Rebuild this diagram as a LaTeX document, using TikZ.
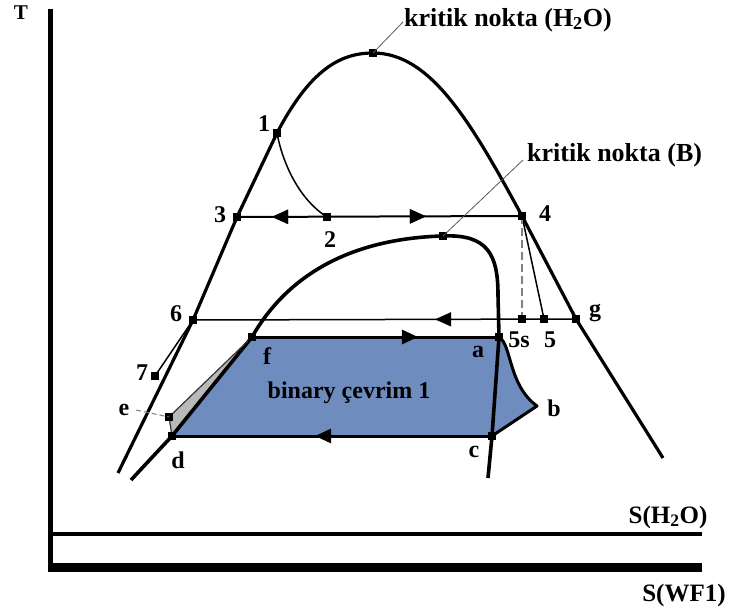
\documentclass[tikz,border=0pt]{standalone}
\usepackage{fontspec}
\setmainfont{Liberation Serif}
\usetikzlibrary{arrows.meta,decorations.markings}
\definecolor{binblue}{RGB}{110,140,190}
\definecolor{sliver}{RGB}{185,185,185}
\begin{document}
\begin{tikzpicture}[x=1pt,y=-1pt,
  dome/.style={line width=3.2pt, line join=round},
  wfdome/.style={line width=3.6pt, line join=round},
  mk/.style={rectangle, fill=black, minimum size=8pt, inner sep=0pt},
  lbl/.style={font=\bfseries\fontsize{24}{26}\selectfont, inner sep=0pt},
  tlbl/.style={font=\bfseries\fontsize{21}{23}\selectfont, inner sep=0pt},
  slbl/.style={font=\bfseries\fontsize{25}{27}\selectfont, inner sep=0pt},
  biglbl/.style={font=\bfseries\fontsize{26}{28}\selectfont, inner sep=0pt, anchor=west},
  leader/.style={draw=black!65, line width=0.8pt},
  arrfwd/.style={postaction={decorate}, decoration={markings, mark=at position #1 with {\arrow{Triangle[length=16pt,width=14pt]}}}},
  arrbwd/.style={postaction={decorate}, decoration={markings, mark=at position #1 with {\arrowreversed{Triangle[length=16pt,width=14pt]}}}}
]
\fill[white] (0,0) rectangle (730,612);
\useasboundingbox (0,0) rectangle (730,612);

% marker positions
\node[mk] (p1) at (277,133) {};
\node[mk] (p2) at (327,217) {};
\node[mk] (p3) at (237,217) {};
\node[mk] (p4) at (522,216) {};
\node[mk] (p5s) at (522,319) {};
\node[mk] (p5) at (544,319) {};
\node[mk] (p6) at (193,320) {};
\node[mk] (p7) at (155,376) {};
\node[mk] (pg) at (576,319) {};
\node[mk] (pa) at (499,337) {};
\node[mk] (pc) at (492,436) {};
\node[mk] (pd) at (172,436) {};
\node[mk] (pe) at (169,417) {};
\node[mk] (pf) at (252,337) {};
\node[mk] (kh) at (373,53) {};
\node[mk] (kb) at (443,236) {};
\coordinate (pb) at (537,406);
\coordinate (h0) at (118,473);
\coordinate (h1) at (663,458);
\coordinate (w0) at (131,480);
\coordinate (w1) at (488,478);
\coordinate (wr) at (498,295);

% binary cycle area
\fill[binblue] (pf.center) -- (pa.center) .. controls (512,345) and (508,385) .. (pb) -- (pc.center) -- (pd.center) -- cycle;
\fill[sliver] (pd.center) -- (pe.center) -- (pf.center) -- cycle;

% axes
\coordinate (ax0) at (50.5,9);
\coordinate (ax1) at (50.5,572);
\coordinate (sh0) at (48,533.5);
\coordinate (sh1) at (702,533.5);
\coordinate (sw0) at (48,567.5);
\coordinate (sw1) at (702,567.5);
\draw[line width=5.5pt] (ax0) -- (ax1);
\draw[line width=4pt] (sh0) -- (sh1);
\draw[line width=9pt] (sw0) -- (sw1);

% H2O dome
\draw[dome] (h0) -- (p6.center) -- (p3.center) -- (p1.center)
  .. controls (310,70) and (340,53) .. (kh.center)
  .. controls (430,53) and (470,120) .. (p4.center) -- (pg.center) -- (h1);

% WF dome
\draw[wfdome] (w0) -- (pd.center) -- (pf.center)
  .. controls (295,262) and (370,238) .. (kb.center)
  .. controls (488,234) and (498,255) .. (wr) -- (pa.center) -- (pc.center) -- (w1);

% process lines
\draw[line width=2pt, arrbwd=0.123, arrfwd=0.663] (p3.center) -- (p4.center);
\draw[line width=1.5pt] (p1.center) .. controls (283,165) and (300,200) .. (p2.center);
\draw[line width=1.5pt, arrbwd=0.632] (p6.center) -- (pg.center);
\draw[line width=1.5pt] (p6.center) -- (p7.center);
\draw[line width=1.5pt] (p4.center) -- (p5.center);
\draw[gray, dashed, dash pattern=on 8pt off 4pt, line width=1.5pt] (p4.center) -- (p5s.center);
\draw[line width=3pt, arrfwd=0.672] (pf.center) -- (pa.center);
\draw[line width=3pt, arrfwd=0.553] (pc.center) -- (pd.center);
\draw[line width=3pt, line join=round] (pa.center) .. controls (512,345) and (508,385) .. (pb) -- (pc.center);
\draw[line width=1.2pt, black!80] (pd.center) -- (pe.center) -- (pf.center);

% markers on top
\foreach \n in {p1,p2,p3,p4,p5s,p5,p6,p7,pg,pa,pc,pd,pe,pf,kh,kb}{
  \fill (\n.south west) rectangle (\n.north east);
}

% leaders
\coordinate (khl) at (403,22);
\coordinate (kbl) at (523,160);
\coordinate (el) at (136,410);
\draw[leader] (kh.center) -- (khl);
\draw[leader] (kb.center) -- (kbl);
\draw[gray, dashed, dash pattern=on 5pt off 3pt, line width=1pt] (el) -- (pe.center);

% labels
\node[tlbl] (lT) at (21,13) {T};
\node[biglbl] (lkh) at (404,20) {kritik nokta (H\textsubscript{2}O)};
\node[biglbl] (lkb) at (527,155) {kritik nokta (B)};
\node[lbl] (l1) at (264,124) {1};
\node[lbl] (l2) at (330,240) {2};
\node[lbl] (l3) at (220,215) {3};
\node[lbl] (l4) at (545,214) {4};
\node[lbl] (l5s) at (519,340) {5s};
\node[lbl] (l5) at (550,340) {5};
\node[lbl] (l6) at (176,314) {6};
\node[lbl] (l7) at (142,373) {7};
\node[lbl] (lg) at (595,313) {g};
\node[lbl] (la) at (478,352) {a};
\node[lbl] (lb) at (554,408) {b};
\node[lbl] (lc) at (474,452) {c};
\node[lbl] (ld) at (178,460) {d};
\node[lbl] (le) at (124,410) {e};
\node[lbl] (lf) at (267,356) {f};
\node[lbl] (lbin) at (349,393) {binary çevrim 1};
\node[slbl] (lsh) at (668,517) {S(H\textsubscript{2}O)};
\node[slbl] (lsw) at (684,595) {S(WF1)};
\end{tikzpicture}
\end{document}
